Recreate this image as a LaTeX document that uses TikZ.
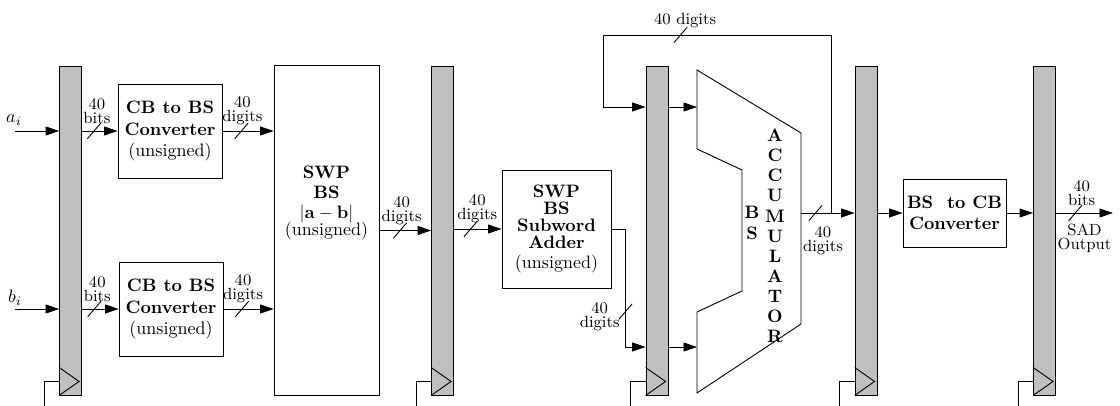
\documentclass[tikz,border=0pt]{standalone}
\usepackage{amsmath,amssymb}
\usepackage{tikz}
\usetikzlibrary{arrows.meta}

\tikzset{
  buscut/.pic={\draw[-] (-3.7pt,-4.3pt) -- (3.7pt,4.3pt);},
}

\begin{document}
\begin{tikzpicture}[x=0.5556pt, y=-0.5556pt, line width=0.5pt, >={Triangle[length=7.5pt,width=5pt]},
    reg/.style={draw, fill=gray!50, minimum width=12.2pt, minimum height=182.8pt, inner sep=0pt},
    block/.style={draw, align=center, inner sep=1pt},
    buslabel/.style={font=\small, align=center, inner sep=1pt},
    stacked/.style={font=\bfseries\fontsize{10}{11.2}\selectfont, align=center, inner sep=0pt}]
    \useasboundingbox (0,0) rectangle (1120,406);

    % pipeline registers
    \node[reg] (r1) at (70.5,230.5) {};
    \node[reg] (r2) at (442.5,230.5) {};
    \node[reg] (r3) at (657,230.5) {};
    \node[reg] (r4) at (866,230.5) {};
    \node[reg] (r5) at (1044.5,230.5) {};
    \foreach \r in {r1,r2,r3,r4,r5} {
        \draw (\r.south west) ++(0,-28) -- ++(20,14) -- ++(-20,14);
        \draw (\r.south west) ++(0,-14) -- ++(-15,0) -- ++(0,25);
    }

    % blocks
    \node[block, minimum width=57.8pt, minimum height=52.2pt] (cb1) at (170,131)
        {\textbf{CB to BS}\\\textbf{Converter}\\(unsigned)};
    \node[block, minimum width=57.8pt, minimum height=52.2pt] (cb2) at (171,309)
        {\textbf{CB to BS}\\\textbf{Converter}\\(unsigned)};
    \node[block, minimum width=58.3pt, minimum height=183.3pt] (swp) at (326.5,230.5) {};
    \node[align=center, inner sep=0pt] (swptxt) at (326.5,203)
        {\textbf{SWP}\\[-0.9pt]\textbf{BS}\\[-0.9pt]$|\mathbf{a}-\mathbf{b}|$\\[-2pt](unsigned)};
    \node[block, minimum width=60.6pt, minimum height=65.6pt] (adder) at (556.5,229)
        {\textbf{SWP}\\[-2.6pt]\textbf{BS}\\[-2.6pt]\textbf{Subword}\\[-2.6pt]\textbf{Adder}\\[-0.9pt](unsigned)};
    \node[block, minimum width=57.2pt, minimum height=37.8pt] (bscb) at (954.5,213)
        {\textbf{BS~ to CB}\\\textbf{Converter}};

    % accumulator
    \coordinate (acc1) at (697,70);
    \coordinate (acc2) at (801,133);
    \coordinate (acc3) at (801,324);
    \coordinate (acc4) at (697,393);
    \coordinate (acc5) at (697,312);
    \coordinate (acc6) at (742,291);
    \coordinate (acc7) at (742,170);
    \coordinate (acc8) at (697,149);
    \draw (acc1) -- (acc2) -- (acc3) -- (acc4) -- (acc5) -- (acc6) -- (acc7) -- (acc8) -- cycle;
    \node[stacked] (accname) at (775,236) {A\\C\\C\\U\\M\\U\\L\\A\\T\\O\\R};
    \node[stacked] (bsname) at (752,223) {B\\S};
    \coordinate (accinA) at (697,107);
    \coordinate (accinB) at (697,347);
    \coordinate (accout) at (801,213);

    % inputs
    \coordinate (ain) at (15,131);
    \coordinate (bin) at (15,309);
    \node (alabel) at (14,120) {$a_i$};
    \node (blabel) at (15,298) {$b_i$};
    \draw[->] (ain) -- (ain -| r1.west);
    \draw[->] (bin) -- (bin -| r1.west);

    % datapath
    \draw[->] (ain -| r1.east) -- pic[pos=.34]{buscut}
        node[buslabel, pos=.42, above=3pt] (lbla1) {40\\[-3.2pt]bits} (cb1.west);
    \draw[->] (bin -| r1.east) -- pic[pos=.34]{buscut}
        node[buslabel, pos=.42, above=3pt] (lblb1) {40\\[-3.2pt]bits} (cb2.west);
    \draw[->] (cb1.east) -- pic[pos=.37]{buscut}
        node[buslabel, pos=.39, above=2pt] (lbla2) {40\\[-3.2pt]digits} (cb1.east -| swp.west);
    \draw[->] (cb2.east) -- pic[pos=.37]{buscut}
        node[buslabel, pos=.39, above=2pt] (lblb2) {40\\[-3.2pt]digits} (cb2.east -| swp.west);
    \draw[->] (swp.east) -- pic[pos=.4]{buscut}
        node[buslabel, pos=.43, above=2pt] (lbld) {40\\[-3.2pt]digits} (swp.east -| r2.west);
    \draw[->] (r2.east |- adder.west) -- pic[pos=.35]{buscut}
        node[buslabel, pos=.49, above=2pt] (lbld2) {40\\[-3.2pt]digits} (adder.west);
    \draw[->] (adder.east) -- ++(14,0) |- pic[pos=.35]{buscut}
        node[buslabel, pos=.37, left=2pt] (lblad) {40\\[-3.2pt]digits} (r3.west |- accinB);
    \draw[->] (r3.east |- accinA) -- (accinA);
    \draw[->] (r3.east |- accinB) -- (accinB);

    % accumulator feedback
    \coordinate (fbsplit) at (831,213);
    \coordinate (fbright) at (831,35);
    \coordinate (fbleft) at (603,35);
    \draw[->] (accout) -- pic[pos=.27]{buscut}
        node[buslabel, pos=.41, below=6pt] (lblacc) {40\\[-3.2pt]digits} (r4.west |- accout);
    \draw[->] (fbsplit) -- (fbright) -- pic[pos=.66]{buscut}
        node[buslabel, pos=.64, above=3pt] (lblfb) {40 digits} (fbleft) |- (r3.west |- accinA);

    % output stage
    \coordinate (sadout) at (1113,213);
    \draw[->] (r4.east |- bscb.west) -- (bscb.west);
    \draw[->] (bscb.east) -- (bscb.east -| r5.west);
    \draw[->] (r5.east |- sadout) -- pic[pos=.34]{buscut}
        node[buslabel, pos=.45, above=3pt] (lblout) {40\\[-3.2pt]bits}
        node[buslabel, pos=.5, below=5pt] (lblsad) {SAD\\[-3.5pt]Output} (sadout);
\end{tikzpicture}
\end{document}
